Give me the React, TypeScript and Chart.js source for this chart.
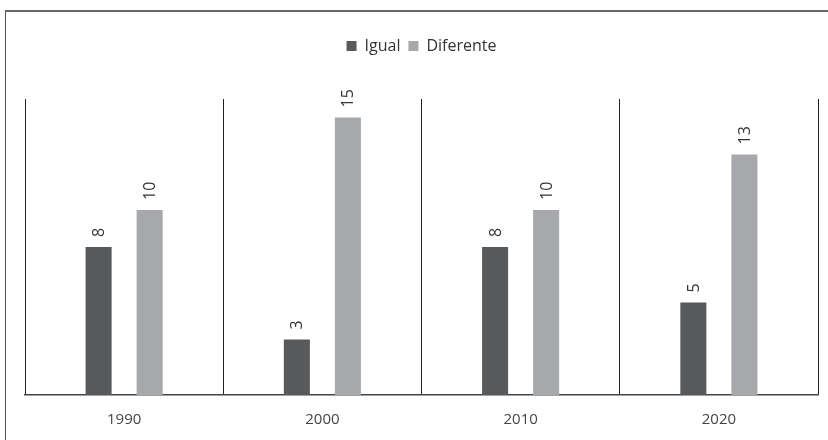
import React, { useEffect, useRef } from "react";
import { Chart, registerables } from "chart.js";

Chart.register(...registerables);

const categories = ["1990", "2000", "2010", "2020"];
const igualValues = [8, 3, 8, 5];
const diferenteValues = [10, 15, 10, 13];
const seriesNames = ["Igual", "Diferente"];

const FONT = "'Open Sans', 'Noto Sans', sans-serif";

const legendSpacing = {
  id: "legendSpacing",
  beforeInit(chart: any) {
    const orig = chart.legend.fit;
    chart.legend.fit = function () {
      orig.bind(chart.legend)();
      this.height += 35;
    };
  },
};

const barLabels = {
  id: "barLabels",
  afterDatasetsDraw(chart: any) {
    const ctx = chart.ctx;
    chart.data.datasets.forEach((ds: any, i: number) => {
      const meta = chart.getDatasetMeta(i);
      meta.data.forEach((bar: any, j: number) => {
        ctx.save();
        ctx.translate(bar.x + 1, bar.y - 10);
        ctx.rotate(-Math.PI / 2);
        ctx.font = `16px ${FONT}`;
        ctx.fillStyle = "#333";
        ctx.textAlign = "left";
        ctx.textBaseline = "middle";
        ctx.fillText(String(ds.data[j]), 0, 0);
        ctx.restore();
      });
    });
  },
};

export default function App() {
  const ref = useRef<HTMLCanvasElement>(null);
  useEffect(() => {
    if (!ref.current) return;
    const chart = new Chart(ref.current, {
      type: "bar",
      data: {
        labels: categories,
        datasets: [
          {
            label: seriesNames[0],
            data: igualValues,
            backgroundColor: "#58595b",
            categoryPercentage: 0.515,
            barPercentage: 0.51,
          },
          {
            label: seriesNames[1],
            data: diferenteValues,
            backgroundColor: "#a7a8ab",
            categoryPercentage: 0.515,
            barPercentage: 0.51,
          },
        ],
      },
      options: {
        animation: false,
        responsive: false,
        layout: { padding: { left: 25, right: 10, top: 30, bottom: 0 } },
        plugins: {
          legend: {
            position: "top",
            labels: {
              font: { family: FONT, size: 16 },
              color: "#333",
              boxWidth: 10,
              boxHeight: 10,
              padding: 8,
            },
          },
          tooltip: { enabled: false },
        },
        scales: {
          x: {
            afterFit: (scale: any) => {
              scale.height -= 5;
            },
            grid: {
              offset: true,
              color: "#222",
              lineWidth: 1,
              drawTicks: false,
            },
            border: { color: "#444", width: 1.5 },
            ticks: {
              font: { family: FONT, size: 15 },
              color: "#444",
              padding: 16,
            },
          },
          y: {
            display: false,
            min: 0,
            max: 16,
          },
        },
      },
      plugins: [legendSpacing, barLabels],
    });
    return () => chart.destroy();
  }, []);
  return (
    <div style={{ position: "fixed", left: 0, top: 0, width: 828, height: 440, background: "#fff", overflow: "hidden" }}>
      <div
        style={{
          position: "absolute",
          left: 5,
          top: 10,
          width: 900,
          height: 500,
          borderLeft: "1.5px solid #555",
          borderTop: "2px solid #666",
        }}
      />
      <canvas ref={ref} width={828} height={440} style={{ position: "absolute", left: 0, top: 0 }} />
    </div>
  );
}
